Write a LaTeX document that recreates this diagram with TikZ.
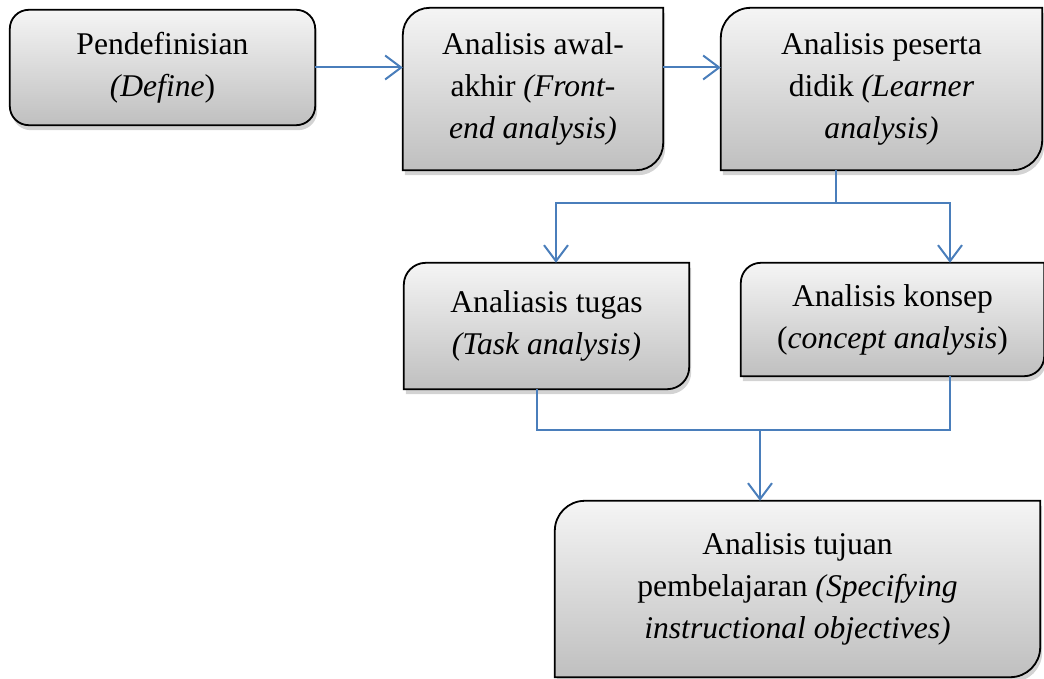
\documentclass[tikz,border=0pt]{standalone}
\usepackage{fontspec}
\setmainfont{Liberation Serif}
\usetikzlibrary{arrows.meta,shadows,backgrounds}

\definecolor{biru}{HTML}{4A7EBB}

\tikzset{
  teks/.style={align=center, inner sep=0pt, font=\fontsize{31.6}{42}\selectfont},
  kotak/.style={draw=black, line width=1.8pt, top color=gray!8, bottom color=gray!50,
    drop shadow={shadow xshift=2pt, shadow yshift=-5pt, opacity=0.35}},
  garis/.style={draw=biru, line width=2pt},
  panah/.style={garis, -{Straight Barb[length=16pt, width=24pt]}},
}

% kotak dengan sudut bulat di kiri atas dan kanan bawah
\newcommand{\kotakdiag}[2]{%
  \path[kotak] (#1.south west) -- ([yshift=-#2]#1.north west)
    arc[start angle=180, end angle=90, radius=#2] -- (#1.north east)
    -- ([yshift=#2]#1.south east) arc[start angle=0, end angle=-90, radius=#2] -- cycle;}

\begin{document}
\begin{tikzpicture}[x=1pt, y=-1pt]
    \useasboundingbox (0,0) rectangle (1044,679);

    \node[teks, minimum width=305pt, minimum height=115pt] (definisi) at (162.5,67.5)
        {Pendefinisian\\\textit{(Define})}; % tahap define
    \node[teks, minimum width=260pt, minimum height=162pt] (depan) at (533,89)
        {Analisis awal-\\akhir \textit{(Front-}\\\textit{end analysis)}};
    \node[teks, minimum width=321pt, minimum height=162pt] (peserta) at (881.5,89)
        {Analisis peserta\\didik \textit{(Learner}\\\textit{analysis)}};
    \node[teks, minimum width=285pt, minimum height=126pt] (tugas) at (546.5,326)
        {Analiasis tugas\\\textit{(Task analysis)}};
    \node[teks, minimum width=303pt, minimum height=113pt] (konsep) at (892.5,319.5)
        {Analisis konsep\\(\textit{concept analysis})};
    \node[teks, minimum width=485pt, minimum height=176pt] (tujuan) at (797.5,589)
        {Analisis tujuan\\pembelajaran \textit{(Specifying}\\\textit{instructional objectives)}};

    \begin{scope}[on background layer]
        \path[kotak, rounded corners=19pt] (definisi.south west) rectangle (definisi.north east);
        \kotakdiag{depan}{27pt}
        \kotakdiag{peserta}{30pt}
        \kotakdiag{tugas}{22pt}
        \kotakdiag{konsep}{20pt}
        \kotakdiag{tujuan}{30pt}
    \end{scope}

    \coordinate (cabang) at (836,203); % titik cabang atas
    \coordinate (kiri) at (556,203);
    \coordinate (kanan) at (950,203);
    \coordinate (gabung) at (760,430); % titik gabung bawah
    \coordinate (bkiri) at (537,430);
    \coordinate (bkanan) at (950,430);

    \draw[panah] (definisi.east) -- (definisi.east -| depan.west);
    \draw[panah] (depan.east |- definisi.east) -- (peserta.west |- definisi.east);
    \draw[garis] (peserta.south -| cabang) -- (cabang);
    \draw[panah] (cabang) -| (tugas.north -| kiri);
    \draw[panah] (cabang) -| (konsep.north -| kanan);
    \draw[garis] (tugas.south -| bkiri) |- (gabung) -| (konsep.south -| bkanan);
    \draw[panah] (gabung) -- (tujuan.north -| gabung);
\end{tikzpicture}
\end{document}
